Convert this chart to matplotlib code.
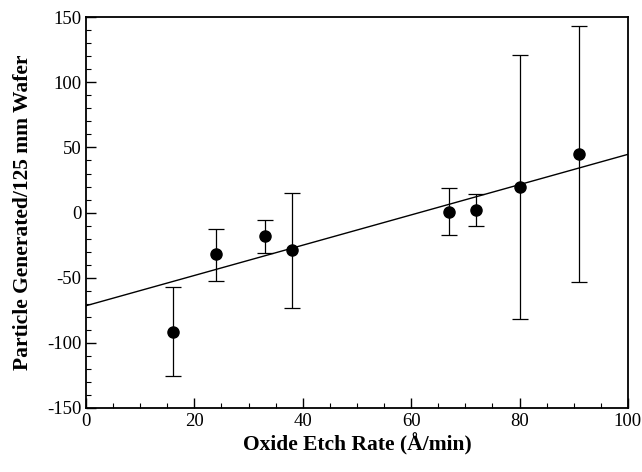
import matplotlib
matplotlib.use("Agg")
import matplotlib.pyplot as plt
import numpy as np
from matplotlib.ticker import MultipleLocator

plt.rcParams['font.family'] = ['Liberation Serif', 'DejaVu Serif']
plt.rcParams['axes.unicode_minus'] = False

etch_rate = [16, 24, 33, 38, 67, 72, 80, 91]
particles = [-91.5, -32, -18.3, -29, 0.6, 1.7, 19.6, 44.7]
err_top = [-57.4, -12.4, -5.5, 14.7, 18.6, 14, 120.9, 143.1]
err_bottom = [-125.5, -52.3, -31.3, -73.5, -17.5, -10.4, -81.7, -53.6]
fit_x = [0, 100]
fit_y = [-71.5, 44.7]

fig = plt.figure(figsize=(6.42, 4.72), dpi=100)
ax = fig.add_axes([0.134, 0.1356, 0.844, 0.828])

p = np.array(particles)
yerr = [p - np.array(err_bottom), np.array(err_top) - p]
ax.errorbar(etch_rate, particles, yerr=yerr, fmt='o', color='black',
            markersize=8, elinewidth=0.9, capsize=6, capthick=0.9)
ax.plot(fit_x, fit_y, color='black', lw=1.0)

ax.set_xlim(0, 100)
ax.set_ylim(-150, 150)
ax.xaxis.set_major_locator(MultipleLocator(20))
ax.xaxis.set_minor_locator(MultipleLocator(5))
ax.yaxis.set_major_locator(MultipleLocator(50))
ax.yaxis.set_minor_locator(MultipleLocator(10))
ax.tick_params(which='both', direction='in', labelsize=13.5, top=False, right=False)
ax.tick_params(which='major', length=7, width=1)
ax.tick_params(which='minor', length=3.5, width=0.8)
for s in ax.spines.values():
    s.set_linewidth(1.3)

ax.set_xlabel('Oxide Etch Rate (Å/min)', fontsize=15.5, fontweight='bold', labelpad=2)
ax.set_ylabel('Particle Generated/125 mm Wafer', fontsize=15.5, fontweight='bold', labelpad=10)

fig.savefig('out.png', dpi=100)
